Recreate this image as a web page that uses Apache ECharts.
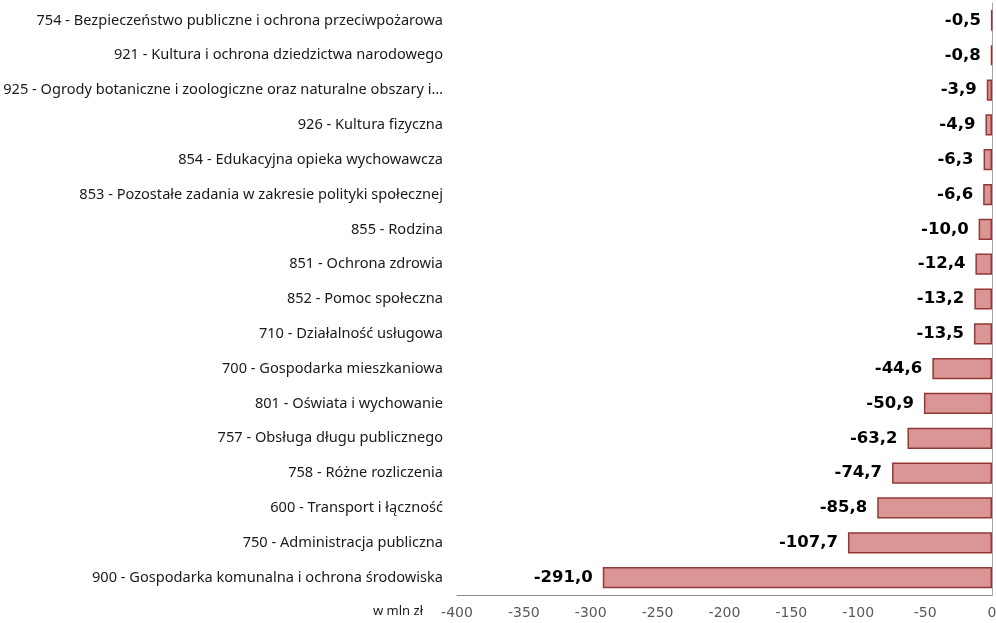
<!DOCTYPE html>
<html>
<head>
<meta charset="utf-8">
<script src="https://cdn.jsdelivr.net/npm/echarts@6/dist/echarts.min.js"></script>
<style>
  html, body { margin: 0; padding: 0; background: #fff; }
  #chart { width: 996px; height: 623px; }
</style>
</head>
<body>
<div id="chart"></div>
<script>
// categories from top to bottom
const categories = [
  '754 - Bezpieczeństwo publiczne i ochrona przeciwpożarowa',
  '921 - Kultura i ochrona dziedzictwa narodowego',
  '925 - Ogrody botaniczne i zoologiczne oraz naturalne obszary i…',
  '926 - Kultura fizyczna',
  '854 - Edukacyjna opieka wychowawcza',
  '853 - Pozostałe zadania w zakresie polityki społecznej',
  '855 - Rodzina',
  '851 - Ochrona zdrowia',
  '852 - Pomoc społeczna',
  '710 - Działalność usługowa',
  '700 - Gospodarka mieszkaniowa',
  '801 - Oświata i wychowanie',
  '757 - Obsługa długu publicznego',
  '758 - Różne rozliczenia',
  '600 - Transport i łączność',
  '750 - Administracja publiczna',
  '900 - Gospodarka komunalna i ochrona środowiska'
]
const values = [-0.5, -0.8, -3.9, -4.9, -6.3, -6.6, -10.0, -12.4, -13.2, -13.5, -44.6, -50.9, -63.2, -74.7, -85.8, -107.7, -291.0]
const axisMin = -400
const axisMax = 0
const axisStep = 50
const unitLabel = 'w mln zł'

const chart = echarts.init(document.getElementById('chart'))

const fmt = v => v.toFixed(1).replace('.', ',')

const option = {
  animation: false,
  grid: {
    left: 457,
    right: 4,
    top: 3,
    bottom: 28,
    outerBoundsMode: 'none'
  },
  xAxis: {
    type: 'value',
    min: axisMin,
    max: axisMax,
    interval: axisStep,
    axisLine: {
      show: true,
      lineStyle: { color: '#8c8c8c' }
    },
    axisTick: { show: false },
    splitLine: { show: false },
    axisLabel: {
      color: '#595959',
      fontFamily: 'DejaVu Sans',
      fontSize: 14,
      margin: 11
    }
  },
  yAxis: [{
    type: 'category',
    data: categories,
    inverse: true,
    position: 'left',
    axisLine: { show: false },
    axisTick: { show: false },
    axisLabel: {
      color: '#1a1a1a',
      fontFamily: 'Noto Sans',
      fontSize: 14.6,
      margin: 14
    }
  }, {
    type: 'category',
    data: categories,
    inverse: true,
    position: 'right',
    axisLine: {
      show: true,
      lineStyle: { color: '#a6a6a6' }
    },
    axisTick: { show: false },
    axisLabel: { show: false }
  }],
  series: [{
    type: 'bar',
    data: values,
    yAxisIndex: 0,
    barCategoryGap: '39%',
    itemStyle: {
      color: '#d99694',
      borderColor: '#953735',
      borderWidth: 1.5
    },
    label: {
      show: true,
      position: 'left',
      distance: 10,
      color: '#000',
      fontFamily: 'DejaVu Sans',
      fontWeight: 'bold',
      fontSize: 16.5,
      formatter: p => fmt(p.value)
    }
  }],
  graphic: [{
    type: 'text',
    right: 996 - 423,
    top: 605,
    style: {
      text: unitLabel,
      fill: '#1a1a1a',
      font: '13px "Noto Sans"'
    }
  }]
}

chart.setOption(option)
</script>
</body>
</html>
